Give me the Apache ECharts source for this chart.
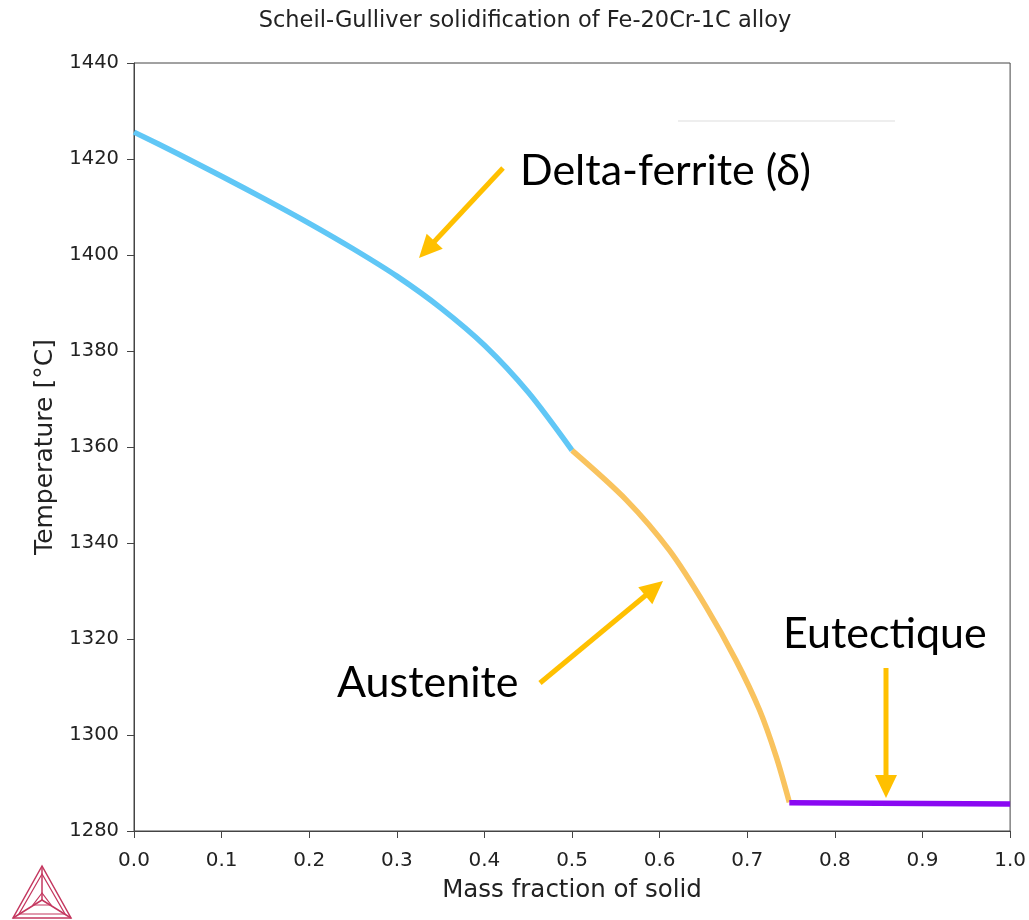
<!DOCTYPE html>
<html>
<head>
<meta charset="utf-8">
<script src="https://cdn.jsdelivr.net/npm/echarts@6/dist/echarts.min.js"></script>
<style>
html,body{margin:0;padding:0;background:#fff;}
#chart{width:1029px;height:920px;}
</style>
</head>
<body>
<div id="chart"></div>
<script>
// ---- data ----
const titleText = 'Scheil-Gulliver solidification of Fe-20Cr-1C alloy';
const xAxisName = 'Mass fraction of solid';
const yAxisName = 'Temperature [°C]';
const deltaFerrite = [[0.0,1425.6],[0.05,1421.1],[0.1,1416.4],[0.15,1411.6],[0.2,1406.6],[0.25,1401.3],[0.3,1395.6],[0.35,1389.0],[0.4,1381.2],[0.45,1371.4],[0.5,1359.3]];
const austenite = [[0.5,1359.3],[0.5618,1349.0],[0.611,1338.5],[0.653,1326.7],[0.687,1315.6],[0.714,1305.2],[0.733,1295.5],[0.748,1286.0]];
const eutectic = [[0.748,1285.9],[0.85,1285.8],[1.0,1285.6]];
const annotations = ['Delta-ferrite (δ)', 'Austenite', 'Eutectique'];

const chart = echarts.init(document.getElementById('chart'));
const arrowColor = '#FFC000';

function arrow(x1, y1, x2, y2) {
  const dx = x2 - x1, dy = y2 - y1;
  const len = Math.sqrt(dx*dx + dy*dy);
  const ux = dx/len, uy = dy/len;
  const nx = -uy, ny = ux;
  const L = 23, W = 11;
  const bx = x2 - L*ux, by = y2 - L*uy;
  return [
    {type:'line', shape:{x1:x1, y1:y1, x2:x2 - L*0.7*ux, y2:y2 - L*0.7*uy}, style:{stroke:arrowColor, lineWidth:5}, z:100},
    {type:'polygon', shape:{points:[[x2,y2],[bx + W*nx, by + W*ny],[bx - W*nx, by - W*ny]]}, style:{fill:arrowColor}, z:100}
  ];
}

const logoColor = '#c4375f';
const logo = [
  {type:'polygon', shape:{points:[[42,866],[13,918],[71,918]]}, style:{fill:'none', stroke:logoColor, lineWidth:1.5}},
  {type:'polygon', shape:{points:[[42,874],[19,914],[65,914]]}, style:{fill:'none', stroke:logoColor, lineWidth:1.2}},
  {type:'polyline', shape:{points:[[42,866],[42,900]]}, style:{stroke:logoColor, lineWidth:1.5}},
  {type:'polyline', shape:{points:[[13,918],[42,900],[71,918]]}, style:{stroke:logoColor, lineWidth:1.5}},
  {type:'polygon', shape:{points:[[42,893],[33,905],[51,905]]}, style:{fill:'none', stroke:logoColor, lineWidth:1.2}}
];

const option = {
  animation: false,
  backgroundColor: '#ffffff',
  title: {
    text: titleText,
    left: 520, top: 5, textAlign: 'center',
    textStyle: {fontFamily: 'DejaVu Sans', fontSize: 22.5, fontWeight: 'normal', color: '#222'}
  },
  grid: {left: 134, right: 18, top: 63, bottom: 89, show: true, borderColor: '#444', borderWidth: 1, backgroundColor: 'transparent'},
  xAxis: {
    type: 'value', min: 0, max: 1, interval: 0.1,
    name: xAxisName, nameLocation: 'middle', nameGap: 47,
    nameTextStyle: {fontFamily: 'DejaVu Sans', fontSize: 24.5, color: '#222'},
    axisLine: {show: true, lineStyle: {color: '#444', width: 1}},
    axisTick: {show: true, inside: false, length: 7, lineStyle: {color: '#444'}},
    axisLabel: {fontFamily: 'DejaVu Sans', fontSize: 20, color: '#222', margin: 20, formatter: v => v.toFixed(1)},
    splitLine: {show: false}
  },
  yAxis: {
    type: 'value', min: 1280, max: 1440, interval: 20,
    name: yAxisName, nameLocation: 'middle', nameGap: 74, nameRotate: 90,
    nameTextStyle: {fontFamily: 'DejaVu Sans', fontSize: 25, color: '#222'},
    axisLine: {show: true, lineStyle: {color: '#444', width: 1}},
    axisTick: {show: true, inside: false, length: 7, lineStyle: {color: '#444'}},
    axisLabel: {fontFamily: 'DejaVu Sans', fontSize: 19.5, color: '#222', margin: 15, formatter: v => String(v)},
    splitLine: {show: false}
  },
  series: [
    {type: 'line', name: 'Delta-ferrite', data: deltaFerrite, smooth: 0.3, showSymbol: false, lineStyle: {color: '#60C7F6', width: 5.5}, z: 3},
    {type: 'line', name: 'Austenite', data: austenite, smooth: 0.3, showSymbol: false, lineStyle: {color: '#F9C35E', width: 5.5}, z: 3},
    {type: 'line', name: 'Eutectic', data: eutectic, showSymbol: false, lineStyle: {color: '#8A08F2', width: 5.5}, z: 4}
  ],
  graphic: [
    {type:'line', shape:{x1:678, y1:121, x2:895, y2:121}, style:{stroke:'#dddddd', lineWidth:1}},
    {type:'text', left: 520, top: 150, style:{text: annotations[0], fontFamily:'Lato', fontSize: 43, fill:'#000'}, z:100},
    {type:'text', left: 337, top: 662, style:{text: annotations[1], fontFamily:'Lato', fontSize: 43, fill:'#000'}, z:100},
    {type:'text', left: 783, top: 613, style:{text: annotations[2], fontFamily:'Lato', fontSize: 43, fill:'#000'}, z:100}
  ].concat(arrow(503,168,419,258), arrow(540,683,663,581), arrow(886,668,886,798), logo)
};
chart.setOption(option);
</script>
</body>
</html>
